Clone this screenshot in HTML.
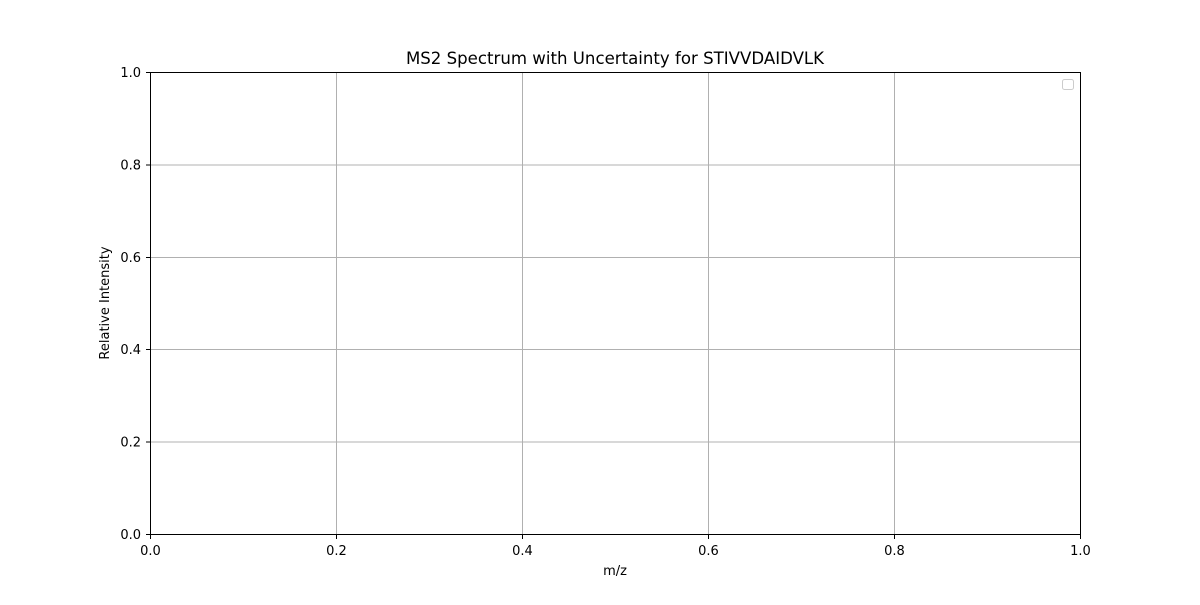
<!DOCTYPE html>
<html><head><meta charset="utf-8"><style>
body{margin:0;background:#fff;}
svg text{font-family:"DejaVu Sans","Liberation Sans",sans-serif;}
</style></head><body>
<svg id="chart" width="1200" height="600" xmlns="http://www.w3.org/2000/svg">
<rect width="1200" height="600" fill="#fff"/>
<text x="615" y="64" font-size="16.6" text-anchor="middle">MS2 Spectrum with Uncertainty for STIVVDAIDVLK</text>
<g id="grid" shape-rendering="crispEdges"></g>
<g id="ticks" shape-rendering="crispEdges"></g>
<rect x="150.5" y="72.5" width="930" height="462" fill="none" stroke="#000" stroke-width="1" shape-rendering="crispEdges"/>
<text x="615" y="575" font-size="13" text-anchor="middle">m/z</text>
<text x="109" y="303" font-size="13" text-anchor="middle" transform="rotate(-90 109 303)">Relative Intensity</text>
<rect x="1062.5" y="79.5" width="11" height="10" rx="2" fill="#fff" stroke="#ccc"/>
</svg>
<script>
const xTicks=[0.0,0.2,0.4,0.6,0.8,1.0];
const yTicks=[0.0,0.2,0.4,0.6,0.8,1.0];
const xs=v=>150.5+v*930, ys=v=>534.5-v*462;
const ns="http://www.w3.org/2000/svg";
const g=document.getElementById('grid'), t=document.getElementById('ticks');
function mk(tag,attrs,parent){const e=document.createElementNS(ns,tag);for(const k in attrs)e.setAttribute(k,attrs[k]);parent.appendChild(e);return e;}
xTicks.forEach(v=>{
 const x=xs(v);
 const l=mk('line',{x1:x,x2:x,y1:72,y2:534,stroke:'#b0b0b0','stroke-width':1},g);
 
 
 mk('line',{x1:x,x2:x,y1:534,y2:539,stroke:'#000'},t);
 const tx=mk('text',{x:x,y:555,'font-size':13,'text-anchor':'middle'},t);
 tx.textContent=v.toFixed(1);
 
 
});
yTicks.forEach(v=>{
 const y=ys(v);
 const l=mk('line',{x1:150,x2:1080,y1:y,y2:y,stroke:'#b0b0b0','stroke-width':1},g);
 
 
 mk('line',{x1:146,x2:150,y1:y,y2:y,stroke:'#000'},t);
 const tx=mk('text',{x:141,y:y+4.5,'font-size':13,'text-anchor':'end'},t);
 tx.textContent=v.toFixed(1);
 
 
});
</script>
</body></html>
